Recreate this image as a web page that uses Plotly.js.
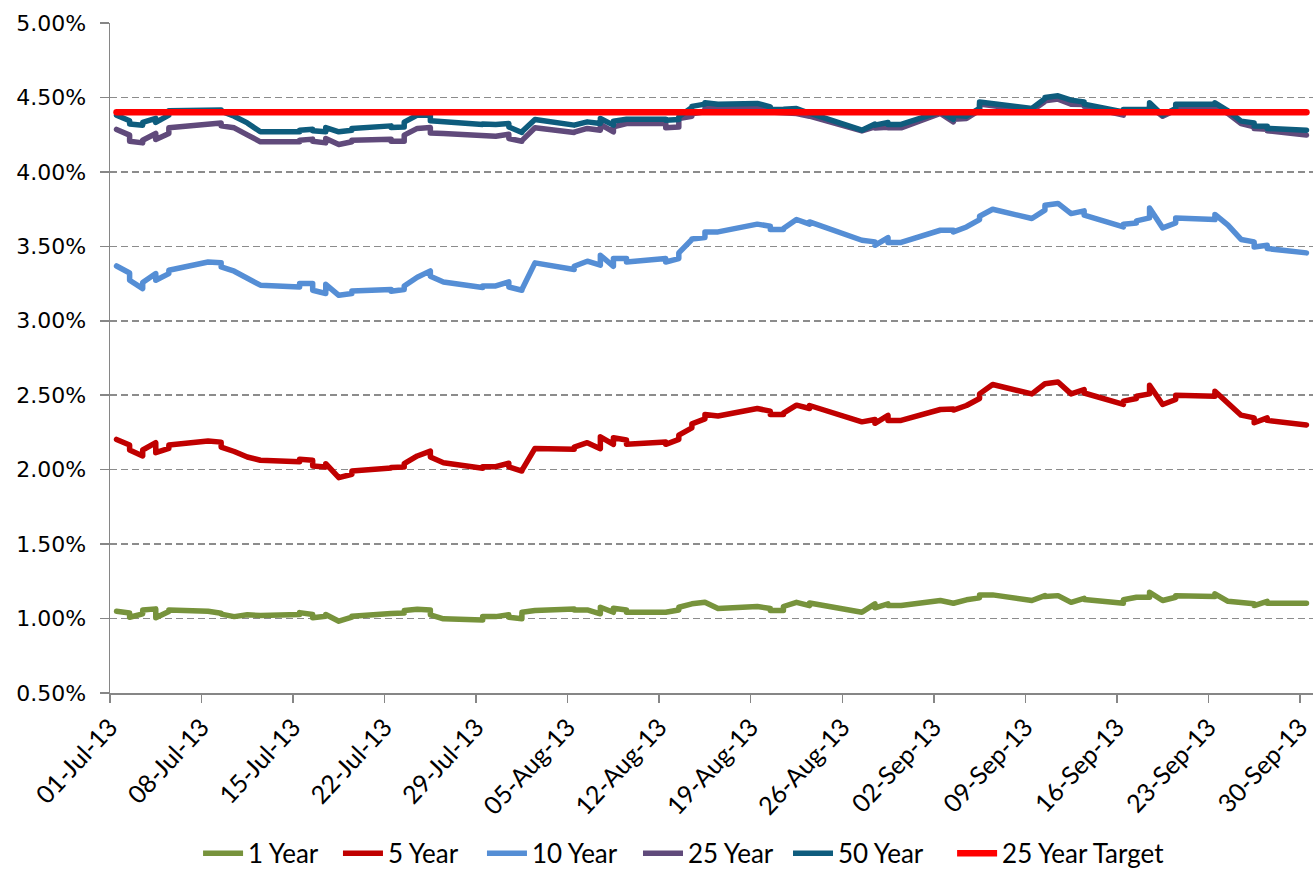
<!DOCTYPE html>
<html>
<head>
<meta charset="utf-8">
<script src="https://cdn.plot.ly/plotly-3.0.1.min.js"></script>
<style>
  html, body { margin: 0; padding: 0; background: #ffffff; }
  #chart { width: 1314px; height: 872px; }
  .scatterlayer path.js-line { stroke-linejoin: round; stroke-linecap: round; }
</style>
</head>
<body>
<div id="chart"></div>
<script>
// Observation dates (noon of each business day; some dates carry two entries)
const dates = [
  '2013-07-01 12:00','2013-07-02 12:00','2013-07-02 12:00','2013-07-03 12:00','2013-07-03 12:00',
  '2013-07-04 12:00','2013-07-04 12:00','2013-07-05 12:00','2013-07-05 12:00','2013-07-08 12:00',
  '2013-07-09 12:00','2013-07-09 12:00','2013-07-10 12:00','2013-07-11 12:00','2013-07-12 12:00',
  '2013-07-15 12:00','2013-07-15 12:00','2013-07-16 12:00','2013-07-16 12:00','2013-07-17 12:00',
  '2013-07-17 12:00','2013-07-18 12:00','2013-07-19 12:00','2013-07-19 12:00','2013-07-22 12:00',
  '2013-07-22 12:00','2013-07-23 12:00','2013-07-23 12:00','2013-07-24 12:00','2013-07-25 12:00',
  '2013-07-25 12:00','2013-07-26 12:00','2013-07-29 12:00','2013-07-29 12:00','2013-07-30 12:00',
  '2013-07-31 12:00','2013-07-31 12:00','2013-08-01 12:00','2013-08-01 12:00','2013-08-02 12:00',
  '2013-08-05 12:00','2013-08-05 12:00','2013-08-06 12:00','2013-08-07 12:00','2013-08-07 12:00',
  '2013-08-08 12:00','2013-08-08 12:00','2013-08-09 12:00','2013-08-09 12:00','2013-08-12 12:00',
  '2013-08-12 12:00','2013-08-13 12:00','2013-08-13 12:00','2013-08-14 12:00','2013-08-14 12:00',
  '2013-08-15 12:00','2013-08-15 12:00','2013-08-16 12:00','2013-08-19 12:00','2013-08-20 12:00',
  '2013-08-20 12:00','2013-08-21 12:00','2013-08-21 12:00','2013-08-22 12:00','2013-08-23 12:00',
  '2013-08-23 12:00','2013-08-27 12:00','2013-08-28 12:00','2013-08-28 12:00','2013-08-29 12:00',
  '2013-08-29 12:00','2013-08-30 12:00','2013-09-02 12:00','2013-09-03 12:00','2013-09-03 12:00',
  '2013-09-04 12:00','2013-09-05 12:00','2013-09-05 12:00','2013-09-06 12:00','2013-09-09 12:00',
  '2013-09-10 12:00','2013-09-10 12:00','2013-09-11 12:00','2013-09-12 12:00','2013-09-13 12:00',
  '2013-09-13 12:00','2013-09-16 12:00','2013-09-16 12:00','2013-09-17 12:00','2013-09-17 12:00',
  '2013-09-18 12:00','2013-09-18 12:00','2013-09-19 12:00','2013-09-20 12:00','2013-09-20 12:00',
  '2013-09-23 12:00','2013-09-23 12:00','2013-09-24 12:00','2013-09-25 12:00','2013-09-26 12:00',
  '2013-09-26 12:00','2013-09-27 12:00','2013-09-27 12:00','2013-09-30 12:00'
];

const year1 = [
  1.049,1.038,1.009,1.032,1.058, 1.065,1.005,1.047,1.058,1.049,
  1.036,1.030,1.013,1.025,1.020, 1.027,1.040,1.027,1.005,1.015,
  1.027,0.982,1.009,1.015,1.034, 1.035,1.038,1.054,1.062,1.058,
  1.025,0.998,0.991,1.013,1.013, 1.025,1.009,0.998,1.042,1.054,
  1.065,1.058,1.058,1.032,1.076, 1.042,1.069,1.058,1.042,1.042,
  1.042,1.058,1.076,1.099,1.100, 1.105,1.110,1.068,1.081,1.067,
  1.054,1.054,1.081,1.109,1.087, 1.105,1.042,1.099,1.072,1.099,
  1.087,1.087,1.121,1.103,1.103, 1.126,1.139,1.159,1.159,1.121,
  1.154,1.148,1.154,1.109,1.136, 1.128,1.103,1.126,1.143,1.143,
  1.143,1.177,1.121,1.143,1.154, 1.148,1.166,1.116,1.103,1.099,
  1.087,1.116,1.103,1.103
];

const year5 = [
  2.203,2.165,2.132,2.092,2.132, 2.181,2.114,2.143,2.165,2.192,
  2.185,2.152,2.122,2.085,2.063, 2.054,2.070,2.063,2.025,2.018,
  2.040,1.946,1.969,1.991,2.011, 2.015,2.018,2.040,2.092,2.125,
  2.085,2.047,2.009,2.020,2.020, 2.043,2.018,1.991,1.995,2.143,
  2.137,2.152,2.181,2.141,2.221, 2.170,2.214,2.199,2.170,2.185,
  2.170,2.203,2.232,2.281,2.308, 2.341,2.371,2.360,2.411,2.393,
  2.371,2.371,2.380,2.433,2.411, 2.431,2.321,2.337,2.311,2.364,
  2.331,2.331,2.404,2.408,2.400, 2.431,2.478,2.509,2.572,2.509,
  2.572,2.577,2.589,2.509,2.538, 2.515,2.438,2.460,2.478,2.493,
  2.509,2.567,2.438,2.471,2.500, 2.493,2.527,2.448,2.366,2.348,
  2.315,2.348,2.331,2.300
];

const year10 = [
  3.368,3.321,3.272,3.216,3.257, 3.317,3.272,3.317,3.339,3.395,
  3.389,3.362,3.333,3.286,3.239, 3.227,3.250,3.250,3.205,3.183,
  3.245,3.171,3.183,3.200,3.210, 3.198,3.210,3.234,3.292,3.335,
  3.299,3.261,3.223,3.234,3.234, 3.261,3.227,3.205,3.210,3.389,
  3.344,3.366,3.400,3.373,3.440, 3.366,3.418,3.418,3.395,3.418,
  3.395,3.418,3.456,3.546,3.550, 3.559,3.597,3.597,3.649,3.635,
  3.613,3.613,3.620,3.680,3.649, 3.664,3.541,3.530,3.507,3.559,
  3.526,3.526,3.608,3.608,3.597, 3.630,3.680,3.702,3.749,3.687,
  3.743,3.776,3.788,3.720,3.738, 3.709,3.630,3.649,3.657,3.671,
  3.691,3.758,3.624,3.657,3.691, 3.680,3.714,3.642,3.546,3.530,
  3.496,3.507,3.485,3.456
];

const year25 = [
  4.285,4.247,4.206,4.195,4.213, 4.258,4.218,4.258,4.296,4.314,
  4.329,4.309,4.296,4.249,4.202, 4.202,4.213,4.220,4.206,4.195,
  4.224,4.184,4.202,4.213,4.220, 4.206,4.206,4.247,4.292,4.298,
  4.262,4.258,4.240,4.243,4.240, 4.253,4.224,4.206,4.210,4.296,
  4.265,4.267,4.292,4.280,4.319, 4.269,4.302,4.325,4.325,4.325,
  4.296,4.302,4.359,4.374,4.390, 4.403,4.428,4.435,4.437,4.428,
  4.403,4.398,4.398,4.392,4.374, 4.374,4.275,4.302,4.294,4.300,
  4.296,4.296,4.392,4.336,4.354, 4.359,4.415,4.455,4.445,4.410,
  4.472,4.477,4.489,4.455,4.452, 4.440,4.381,4.400,4.403,4.403,
  4.403,4.440,4.374,4.415,4.426, 4.426,4.440,4.392,4.325,4.302,
  4.292,4.287,4.276,4.247
];

const year50 = [
  4.381,4.343,4.321,4.314,4.332, 4.359,4.332,4.381,4.410,4.415,
  4.415,4.408,4.374,4.329,4.269, 4.269,4.280,4.287,4.276,4.269,
  4.298,4.269,4.280,4.292,4.309, 4.298,4.302,4.334,4.381,4.381,
  4.343,4.336,4.319,4.321,4.319, 4.325,4.302,4.265,4.270,4.352,
  4.319,4.314,4.336,4.325,4.359, 4.314,4.341,4.354,4.354,4.354,
  4.347,4.352,4.370,4.433,4.440, 4.455,4.464,4.455,4.460,4.437,
  4.419,4.421,4.421,4.426,4.394, 4.394,4.280,4.321,4.314,4.332,
  4.319,4.319,4.403,4.352,4.381, 4.374,4.426,4.470,4.458,4.426,
  4.492,4.500,4.511,4.482,4.470, 4.455,4.403,4.419,4.419,4.419,
  4.419,4.464,4.381,4.426,4.455, 4.455,4.464,4.410,4.341,4.329,
  4.309,4.307,4.292,4.280
];

const targetRate = 4.40;
const seriesNames = ['1 Year','5 Year','10 Year','25 Year','50 Year','25 Year Target'];
const seriesColors = ['#77933C','#C00000','#558ED5','#604A7B','#0E5C7D','#FF0000'];
const yTicks = [0.5,1.0,1.5,2.0,2.5,3.0,3.5,4.0,4.5,5.0];

const targetSeries = dates.map(() => targetRate);
const allValues = [year1, year5, year10, year25, year50, targetSeries];

// legend entry placement (paper fraction of each entry's left edge)
const legendLeft = [0.0732, 0.1895, 0.3092, 0.4389, 0.5636, 0.7000];
const legendKey = i => (i === 0 ? 'legend' : 'legend' + (i + 1));

const traces = allValues.map((vals, i) => ({
  type: 'scatter',
  mode: 'lines',
  name: seriesNames[i],
  legend: legendKey(i),
  x: dates,
  y: vals,
  line: { color: seriesColors[i], width: i === 5 ? 6.5 : 5.5 },
  hoverinfo: 'x+y+name'
}));

const labelFont = 'Lato, "Open Sans", "Liberation Sans", Arial, sans-serif';

const layout = {
  width: 1314,
  height: 872,
  paper_bgcolor: '#ffffff',
  plot_bgcolor: '#ffffff',
  margin: { l: 110, r: 1, t: 23, b: 179, pad: 0 },
  font: { family: labelFont, color: '#000000' },
  showlegend: true,
  xaxis: {
    type: 'date',
    range: ['2013-07-01 00:00', '2013-10-01 00:00'],
    tick0: '2013-07-01',
    dtick: 7 * 86400000,
    tickformat: '%d-%b-%y',
    tickangle: -47,
    tickfont: { size: 25, family: labelFont, color: '#000000' },
    showgrid: false,
    showline: true,
    linecolor: '#868686',
    linewidth: 1.5,
    ticks: 'outside',
    ticklen: 8,
    tickcolor: '#868686',
    tickwidth: 1.5,
    zeroline: false,
    fixedrange: true
  },
  yaxis: {
    range: [0.5, 5.0],
    tickmode: 'array',
    tickvals: yTicks,
    ticktext: yTicks.map(v => v.toFixed(2) + '%'),
    tickfont: { size: 22, family: '"DejaVu Sans", Verdana, sans-serif', color: '#000000' },
    ticklabelstandoff: 9,
    showgrid: true,
    gridcolor: '#8c8c8c',
    gridwidth: 1.6,
    griddash: '7px,4px',
    showline: true,
    linecolor: '#868686',
    linewidth: 1.5,
    ticks: 'outside',
    ticklen: 9,
    tickcolor: '#868686',
    tickwidth: 1.5,
    zeroline: false,
    fixedrange: true
  }
};

legendLeft.forEach((lx, i) => {
  layout[legendKey(i)] = {
    orientation: 'h',
    x: lx, xanchor: 'left',
    yref: 'container', y: 0.0215, yanchor: 'middle',
    font: { size: 26, family: labelFont, color: '#000000' },
    bgcolor: 'rgba(0,0,0,0)',
    itemwidth: 40,
    tracegroupgap: 0
  };
});

Plotly.newPlot('chart', traces, layout, { displayModeBar: false, staticPlot: true });
</script>
</body>
</html>
